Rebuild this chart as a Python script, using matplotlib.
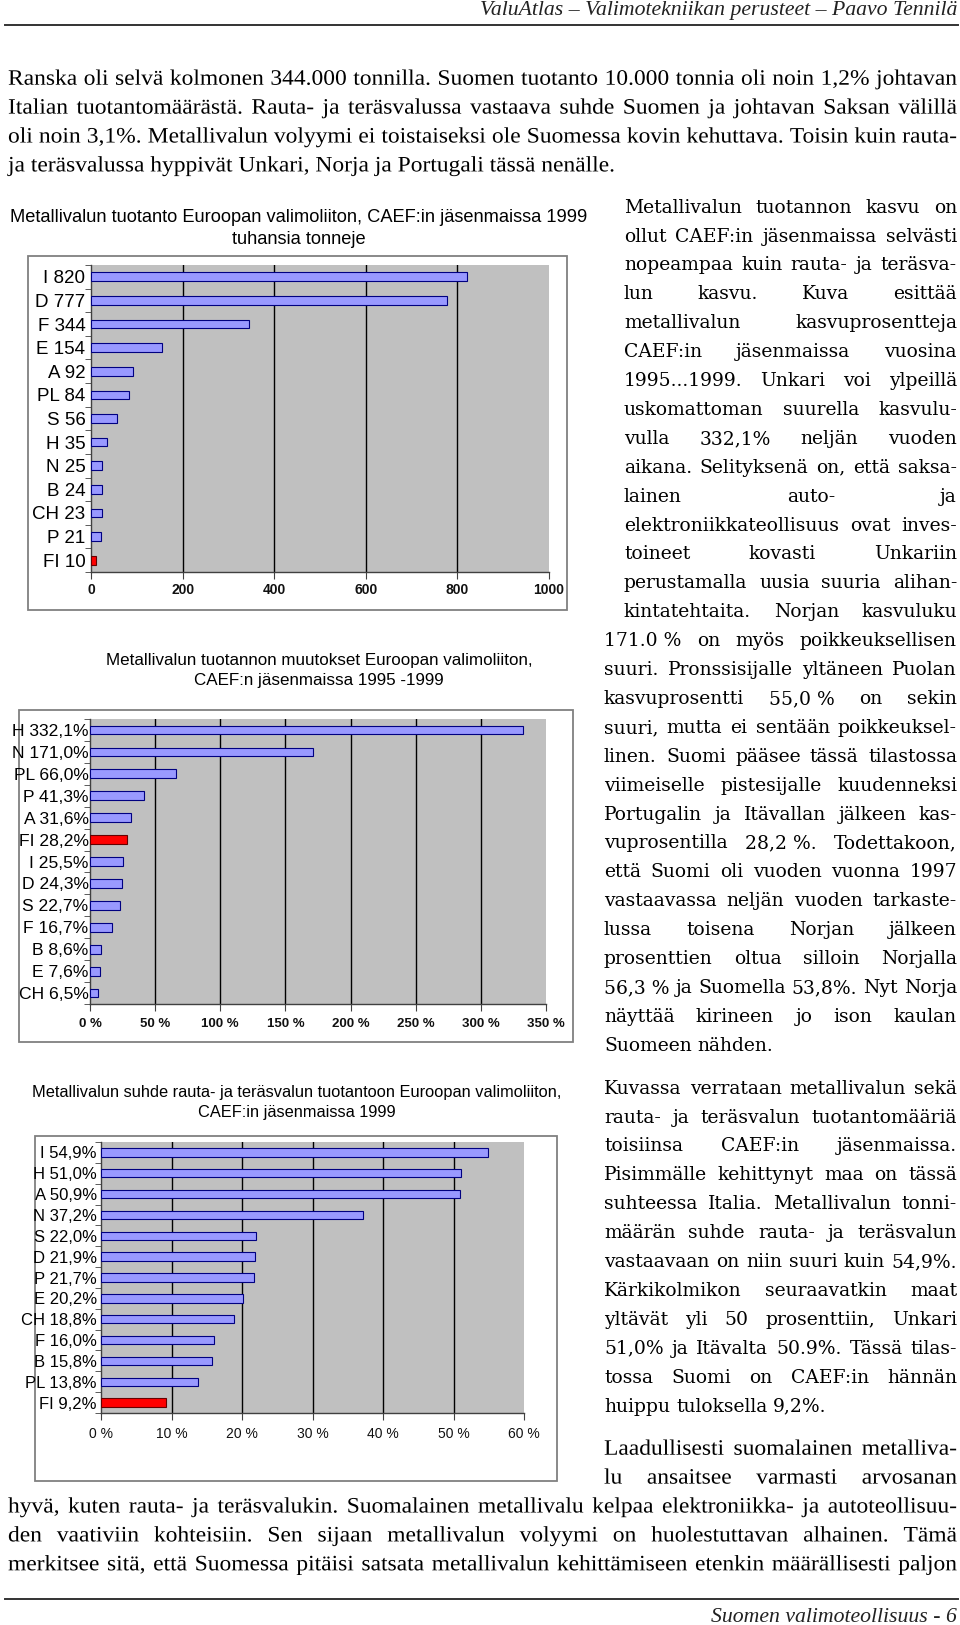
import matplotlib
matplotlib.use('Agg')
import matplotlib.pyplot as plt
import numpy as np
from matplotlib.patches import Rectangle, PathPatch
from matplotlib.textpath import TextPath, text_to_path
from matplotlib.font_manager import FontProperties
from matplotlib.transforms import Affine2D

# ---- data -------------------------------------------------------------
countries1 = ['I', 'D', 'F', 'E', 'A', 'PL', 'S', 'H', 'N', 'B', 'CH', 'P', 'FI']
tonnes1 = [820, 777, 344, 154, 92, 84, 56, 35, 25, 24, 23, 21, 10]
ticks1 = [0, 200, 400, 600, 800, 1000]

countries2 = ['H', 'N', 'PL', 'P', 'A', 'FI', 'I', 'D', 'S', 'F', 'B', 'E', 'CH']
growth2 = [332.1, 171.0, 66.0, 41.3, 31.6, 28.2, 25.5, 24.3, 22.7, 16.7, 8.6, 7.6, 6.5]
ticks2 = [0, 50, 100, 150, 200, 250, 300, 350]

countries3 = ['I', 'H', 'A', 'N', 'S', 'D', 'P', 'E', 'CH', 'F', 'B', 'PL', 'FI']
ratio3 = [54.9, 51.0, 50.9, 37.2, 22.0, 21.9, 21.7, 20.2, 18.8, 16.0, 15.8, 13.8, 9.2]
ticks3 = [0, 10, 20, 30, 40, 50, 60]

title1 = ['Metallivalun tuotanto Euroopan valimoliiton, CAEF:in jäsenmaissa 1999',
          'tuhansia tonneje']
title2 = ['Metallivalun tuotannon muutokset Euroopan valimoliiton,',
          'CAEF:n jäsenmaissa 1995 -1999']
title3 = ['Metallivalun suhde rauta- ja teräsvalun tuotantoon Euroopan valimoliiton,',
          'CAEF:in jäsenmaissa 1999']

header = 'ValuAtlas – Valimotekniikan perusteet – Paavo Tennilä'
footer = 'Suomen valimoteollisuus - 6'

para_top = [
    'Ranska oli selvä kolmonen 344.000 tonnilla. Suomen tuotanto 10.000 tonnia oli noin 1,2% johtavan',
    'Italian tuotantomäärästä. Rauta- ja teräsvalussa vastaava suhde Suomen ja johtavan Saksan välillä',
    'oli noin 3,1%. Metallivalun volyymi ei toistaiseksi ole Suomessa kovin kehuttava. Toisin kuin rauta-',
    'ja teräsvalussa hyppivät Unkari, Norja ja Portugali tässä nenälle.',
]
para_a = [
    'Metallivalun tuotannon kasvu on',
    'ollut CAEF:in jäsenmaissa selvästi',
    'nopeampaa kuin rauta- ja teräsva-',
    'lun kasvu. Kuva esittää',
    'metallivalun kasvuprosentteja',
    'CAEF:in jäsenmaissa vuosina',
    '1995...1999. Unkari voi ylpeillä',
    'uskomattoman suurella kasvulu-',
    'vulla 332,1% neljän vuoden',
    'aikana. Selityksenä on, että saksa-',
    'lainen auto- ja',
    'elektroniikkateollisuus ovat inves-',
    'toineet kovasti Unkariin',
    'perustamalla uusia suuria alihan-',
    'kintatehtaita. Norjan kasvuluku',
    '171.0\u00a0% on myös poikkeuksellisen',
    'suuri. Pronssisijalle yltäneen Puolan',
    'kasvuprosentti 55,0\u00a0% on sekin',
    'suuri, mutta ei sentään poikkeuksel-',
    'linen. Suomi pääsee tässä tilastossa',
    'viimeiselle pistesijalle kuudenneksi',
    'Portugalin ja Itävallan jälkeen kas-',
    'vuprosentilla 28,2\u00a0%. Todettakoon,',
    'että Suomi oli vuoden vuonna 1997',
    'vastaavassa neljän vuoden tarkaste-',
    'lussa toisena Norjan jälkeen',
    'prosenttien oltua silloin Norjalla',
    '56,3\u00a0% ja Suomella 53,8%. Nyt Norja',
    'näyttää kirineen jo ison kaulan',
    'Suomeen nähden.',
]
para_b = [
    'Kuvassa verrataan metallivalun sekä',
    'rauta- ja teräsvalun tuotantomääriä',
    'toisiinsa CAEF:in jäsenmaissa.',
    'Pisimmälle kehittynyt maa on tässä',
    'suhteessa Italia. Metallivalun tonni-',
    'määrän suhde rauta- ja teräsvalun',
    'vastaavaan on niin suuri kuin 54,9%.',
    'Kärkikolmikon seuraavatkin maat',
    'yltävät yli 50 prosenttiin, Unkari',
    '51,0% ja Itävalta 50.9%. Tässä tilas-',
    'tossa Suomi on CAEF:in hännän',
    'huippu tuloksella 9,2%.',
]
para_c = [
    'Laadullisesti suomalainen metalliva-',
    'lu ansaitsee varmasti arvosanan',
    'hyvä, kuten rauta- ja teräsvalukin. Suomalainen metallivalu kelpaa elektroniikka- ja autoteollisuu-',
    'den vaativiin kohteisiin. Sen sijaan metallivalun volyymi on huolestuttavan alhainen. Tämä',
    'merkitsee sitä, että Suomessa pitäisi satsata metallivalun kehittämiseen etenkin määrällisesti paljon',
]

# ---- page -------------------------------------------------------------
W, H = 960, 1625
fig = plt.figure(figsize=(W / 100, H / 100), dpi=100)
page = fig.add_axes([0, 0, 1, 1])
page.set_xlim(0, W)
page.set_ylim(H, 0)
page.axis('off')
rend = fig.canvas.get_renderer()

NARROW = 'Liberation Serif'
WIDE = 'DejaVu Serif'
SANS = 'Liberation Sans'
LINE = 28.9


def width_of(s, **kw):
    t = page.text(0, 0, s, **kw)
    w = t.get_window_extent(rend).width
    t.remove()
    return w


def fit_size(s, target, **kw):
    return 20 * target / width_of(s, fontsize=20, **kw)


# wide column text (normal text objects)
def write_line(s, x0, x1, yc, size, family, justify=True):
    words = s.split(' ')
    ws = [width_of(w, fontsize=size, family=family) for w in words]
    sp = width_of('x x', fontsize=size, family=family) - width_of('xx', fontsize=size, family=family)
    gap = (x1 - x0 - sum(ws)) / (len(words) - 1) if justify and len(words) > 1 else sp
    x = x0
    base = yc + 0.25 * size * 100 / 72
    for w, wd in zip(words, ws):
        page.text(x, base, w, fontsize=size, family=family, ha='left', va='baseline', color='black')
        x += wd + gap


# narrow (condensed) text drawn as paths squeezed horizontally
NPX = 22.0
nprop = FontProperties(family=NARROW, size=NPX)


def pw(s):
    return text_to_path.get_text_width_height_descent(s, nprop, ismath=False)[0]


NSP = pw('x x') - pw('xx')


def narrow_scale(lines_just, lines_free):
    sx = 10.0
    for s, x0, x1 in lines_just:
        words = s.split(' ')
        nat = sum(pw(w) for w in words) + 0.75 * NSP * (len(words) - 1)
        sx = min(sx, (x1 - x0) / nat)
    for s, x0, x1 in lines_free:
        sx = min(sx, (x1 - x0) / pw(s))
    return sx


def write_narrow(s, x0, x1, yc, sx, justify=True):
    words = s.split(' ')
    ws = [pw(w) * sx for w in words]
    gap = (x1 - x0 - sum(ws)) / (len(words) - 1) if justify and len(words) > 1 else NSP * sx
    x = x0
    base = yc + 0.26 * NPX
    for w, wd in zip(words, ws):
        tp = TextPath((0, 0), w, size=NPX, prop=nprop)
        path = Affine2D().scale(sx, -1).translate(x, base).transform_path(tp)
        page.add_patch(PathPatch(path, facecolor='black', edgecolor='none', lw=0))
        x += wd + gap


# header and footer
hs = fit_size(header, 479, family=NARROW, style='italic')
page.text(957, 11, header, fontsize=hs, family=NARROW, style='italic', ha='right', va='center', color='#222222')
page.plot([5, 958], [25, 25], color='#333333', lw=1.4)
page.plot([5, 958], [1599, 1599], color='#333333', lw=1.4)
fs = fit_size(footer, 246, family=NARROW, style='italic')
page.text(957, 1617, footer, fontsize=fs, family=NARROW, style='italic', ha='right', va='center', color='#222222')

# condensed full-width paragraphs
top_y = [79 + i * LINE for i in range(4)]
c_y = [1449 + i * LINE for i in range(5)]
c_x = [604, 604, 8, 8, 8]
just = [(s, 8, 957) for s in para_top[:3]] + [(s, x, 957) for s, x in zip(para_c, c_x)]
sx = narrow_scale(just, [(para_top[3], 8, 615)])
for i, s in enumerate(para_top):
    write_narrow(s, 8, 957, top_y[i], sx, justify=i < 3)
for i, s in enumerate(para_c):
    write_narrow(s, c_x[i], 957, c_y[i], sx, justify=True)

# right column paragraphs
sz_w = fit_size(para_b[-1], 224, family=WIDE)
for i, s in enumerate(para_a):
    xs = 624 if i < 15 else 604
    write_line(s, xs, 957, 208 + i * LINE, sz_w, WIDE, justify=i < len(para_a) - 1)
for i, s in enumerate(para_b):
    write_line(s, 604, 957, 1089 + i * LINE, sz_w, WIDE, justify=i < len(para_b) - 1)


# ---- charts -----------------------------------------------------------
def chart(frame, plot, titles, title_y, title_w, countries, vals, ticks, fmt_lab, fmt_tick,
          bar_h, lab_size, lab_pad, tick_size, tick_weight, tick_pad):
    fx0, fy0, fx1, fy1 = frame
    page.add_patch(Rectangle((fx0, fy0), fx1 - fx0, fy1 - fy0, facecolor='white',
                             edgecolor='#808080', lw=1.3))
    tsz = fit_size(titles[0], title_w, family=SANS)
    for t, ty in zip(titles, title_y[:2]):
        page.text(title_y[2], ty, t, fontsize=tsz, family=SANS, ha='center', va='center', color='black')

    x0, y0, x1, y1 = plot
    ax = fig.add_axes([x0 / W, 1 - y1 / H, (x1 - x0) / W, (y1 - y0) / H])
    n = len(vals)
    cols = ['#FF0000' if c == 'FI' else '#9999FF' for c in countries]
    edges = ['#660000' if c == 'FI' else '#000080' for c in countries]
    ax.barh(np.arange(n), vals, height=bar_h, color=cols, edgecolor=edges, lw=0.8, zorder=3)
    ax.set_xlim(ticks[0], ticks[-1])
    ax.set_ylim(n - 0.5, -0.5)
    ax.set_facecolor('#C0C0C0')
    for t in ticks[1:-1]:
        ax.axvline(t, color='black', lw=1.0, zorder=1)
    for s in ['top', 'right']:
        ax.spines[s].set_visible(False)
    for s in ['left', 'bottom']:
        ax.spines[s].set_color('#404040')
        ax.spines[s].set_linewidth(1.0)
    ax.set_xticks(ticks)
    ax.set_xticklabels([fmt_tick(t) for t in ticks], fontsize=tick_size, family=SANS,
                       fontweight=tick_weight, color='#111111')
    ax.tick_params(axis='x', direction='out', length=5, color='#404040', pad=tick_pad)
    ax.set_yticks(np.arange(n))
    ax.set_yticklabels([fmt_lab(c, v) for c, v in zip(countries, vals)], fontsize=lab_size,
                       family=SANS, color='black')
    ax.tick_params(axis='y', which='major', length=0, pad=lab_pad)
    ax.set_yticks(np.arange(n + 1) - 0.5, minor=True)
    ax.tick_params(axis='y', which='minor', direction='out', length=4, color='#404040')
    return ax


def pct(c, v):
    return f'{c} {v:.1f}%'.replace('.', ',')


chart((28, 256, 567, 610), (91, 265, 549, 572), title1, (217, 240, 299), 578,
      countries1, tonnes1, ticks1, lambda c, v: f'{c} {v}', lambda t: f'{t}',
      0.37, 13.5, 4, 10, 'bold', 2.8)
chart((19, 710, 573, 1042), (90, 719, 546, 1004), title2, (660, 681, 319), 423,
      countries2, growth2, ticks2, pct, lambda t: f'{t} %',
      0.4, 12.6, 1, 9.5, 'bold', 4.8)
chart((35, 1136, 557, 1481), (101, 1142, 524, 1413), title3, (1092, 1113, 297), 526,
      countries3, ratio3, ticks3, pct, lambda t: f'{t} %',
      0.4, 12, 3, 10, 'normal', 5)

fig.savefig('out.png', dpi=100, facecolor='white')
